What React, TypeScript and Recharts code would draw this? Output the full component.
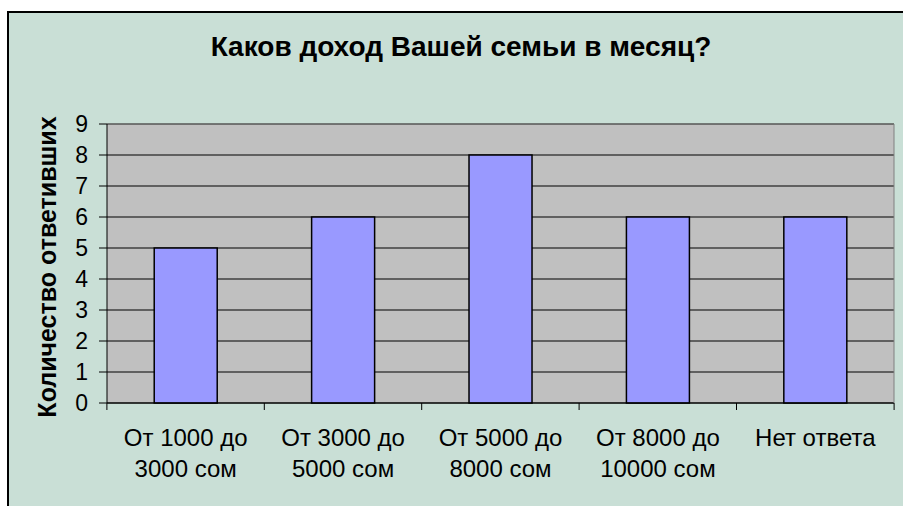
import React from 'react';
import { BarChart, Bar, XAxis, YAxis, CartesianGrid, ReferenceLine } from 'recharts';

// категории ответов (перенос строки — как в подписи оси)
const categories = [
  'От 1000 до\n3000 сом',
  'От 3000 до\n5000 сом',
  'От 5000 до\n8000 сом',
  'От 8000 до\n10000 сом',
  'Нет ответа',
];
const answers = [5, 6, 8, 6, 6];
const yTicks = [0, 1, 2, 3, 4, 5, 6, 7, 8, 9];

const data = categories.map((name, i) => ({ name, value: answers[i] }));

const FONT = '"Liberation Sans", Arial, sans-serif';
const W = 903;
const H = 506;
const margin = { top: 124, right: 8, left: 47, bottom: 43 };
const Y_AXIS_W = 60;
const plotW = W - margin.left - Y_AXIS_W - margin.right;
const band = plotW / categories.length;

const CategoryTick = (props: any) => {
  const { x, y, payload, index } = props;
  const lines = String(payload.value).split('\n');
  return (
    <g>
      <line x1={x - band / 2} x2={x - band / 2} y1={y} y2={y + 7} stroke="#000" />
      {index === categories.length - 1 && (
        <line x1={x + band / 2} x2={x + band / 2} y1={y} y2={y + 7} stroke="#000" />
      )}
      <text x={x} y={y + 43} textAnchor="middle" fontSize={24} fontFamily={FONT} fill="#000">
        {lines.map((l, i) => (
          <tspan key={i} x={x} dy={i === 0 ? 0 : 31}>{l}</tspan>
        ))}
      </text>
    </g>
  );
};

export default function App() {
  return (
    <div style={{ position: 'fixed', left: 0, top: 0, width: W, height: H, background: '#fff', overflow: 'hidden' }}>
      <div
        style={{
          position: 'absolute', left: 7, top: 11, right: 0, bottom: 0,
          background: '#C9DFD6', borderLeft: '2px solid #000', borderTop: '2px solid #000',
        }}
      />
      <div style={{ position: 'absolute', left: 0, top: 0 }}>
        <BarChart width={W} height={H} data={data} margin={margin} barCategoryGap="30%">
          <CartesianGrid vertical={false} stroke="#000" fill="#C0C0C0" fillOpacity={1} />
          <XAxis
            dataKey="name"
            tickLine={false}
            tickSize={0}
            tickMargin={0}
            height={60}
            interval={0}
            axisLine={{ stroke: '#000' }}
            tick={<CategoryTick />}
          />
          <YAxis
            domain={[0, 9]}
            ticks={yTicks}
            interval={0}
            width={Y_AXIS_W}
            tickSize={8}
            tickMargin={11}
            axisLine={{ stroke: '#000' }}
            tickLine={{ stroke: '#000' }}
            tick={{ fontSize: 23, fill: '#000', fontFamily: FONT }}
          />
          <YAxis yAxisId="r" orientation="right" width={1} tick={false} tickLine={false} axisLine={{ stroke: '#808080' }} />
          <ReferenceLine y={9} stroke="#808080" />
          <Bar dataKey="value" fill="#9999FF" stroke="#000" strokeWidth={1.5} isAnimationActive={false} />
        </BarChart>
      </div>
      <svg width={W} height={H} style={{ position: 'absolute', left: 0, top: 0, pointerEvents: 'none' }}>
        <text x={461} y={56} textAnchor="middle" fontSize={28} fontWeight="bold" fontFamily={FONT} fill="#000">
          Каков доход Вашей семьи в месяц?
        </text>
        <text
          x={56}
          y={267}
          transform="rotate(-90 56 267)"
          textAnchor="middle"
          fontSize={25}
          fontWeight="bold"
          fontFamily={FONT}
          fill="#000"
        >
          Количество ответивших
        </text>
      </svg>
    </div>
  );
}
